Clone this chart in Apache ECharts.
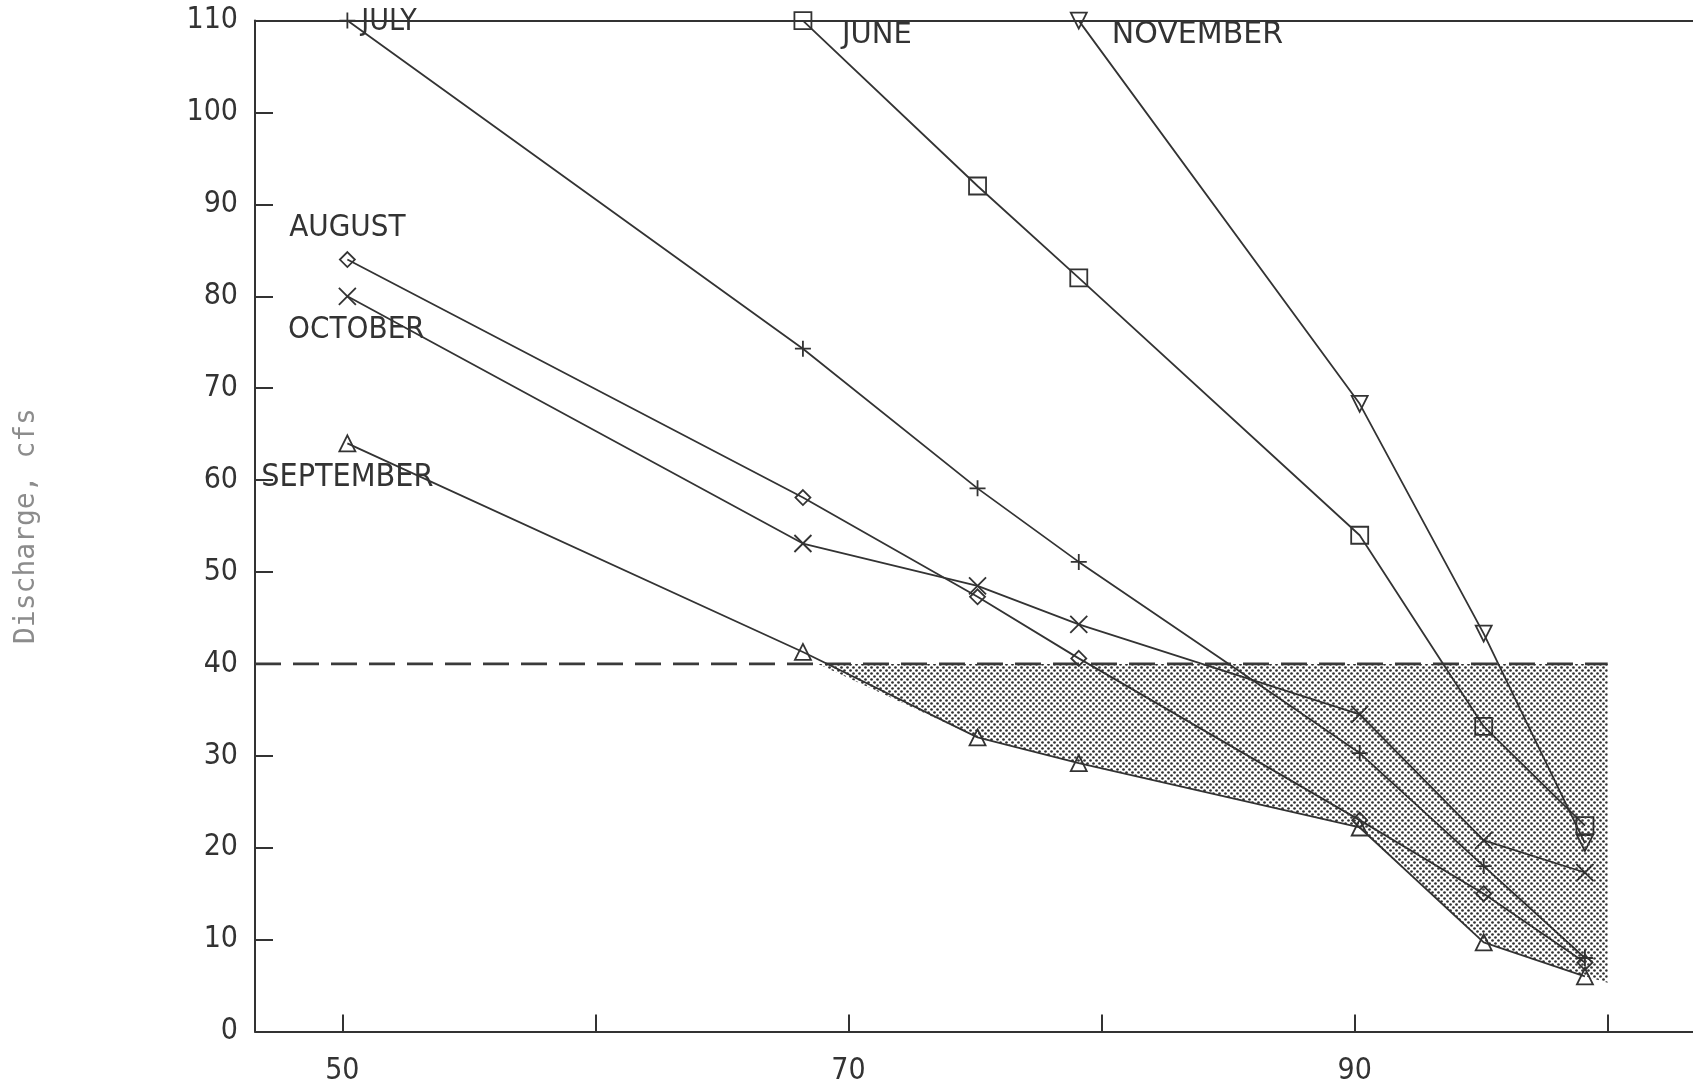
<!DOCTYPE html>
<html>
<head>
<meta charset="utf-8">
<script src="https://cdn.jsdelivr.net/npm/echarts@6/dist/echarts.min.js"></script>
<style>
  html, body { margin: 0; padding: 0; background: #fff; }
  #chart { width: 1693px; height: 1090px; }
</style>
</head>
<body>
<div id="chart"></div>
<script>
// ---- data ----
const xPct = [50.2, 68.2, 75.1, 79.1, 90.2, 95.1, 99.1];       // x positions of points
const july      = [110, 74.3, 59.1, 51.1, 30.3, 18, 8];
const june      = [null, 110, 92, 82, 54, 33.2, 22.4];
const november  = [null, null, null, 110, 68.3, 43.3, 20.5];
const august    = [84, 58.1, 47.3, 40.6, 23, 15, 7.5];
const october   = [80, 53.1, 48.5, 44.3, 34.5, 20.8, 17.3];
const september = [64, 41.3, 32, 29.2, 22.2, 9.7, 6];
const shadeX = [68.8, 75.1, 79.1, 90.2, 95.1, 99.1, 100];       // shaded area lower boundary
const shadeY = [40, 32, 29.2, 22.2, 9.7, 6, 5.3];
const thresholdX = [46.55, 100];
const thresholdY = 40;
const xTicks = [50, 60, 70, 80, 90, 100];
const xTickLabels = [50, 70, 90];
const yTicks = [0, 10, 20, 30, 40, 50, 60, 70, 80, 90, 100, 110];

const INK = '#333';
const FONT = '"DejaVu Sans Condensed", "Liberation Sans", sans-serif';
const WIDE = '"DejaVu Sans", sans-serif';

// dot pattern for the shaded area
const pc = document.createElement('canvas');
pc.width = 6; pc.height = 6;
const pctx = pc.getContext('2d');
pctx.fillStyle = '#303030';
[[1.5, 1.5], [4.5, 4.5]].forEach(function (p) {
  pctx.beginPath(); pctx.arc(p[0], p[1], 1.35, 0, Math.PI * 2); pctx.fill();
});

function pairs(vals) {
  const out = [];
  vals.forEach(function (v, i) { if (v !== null) out.push([xPct[i], v]); });
  return out;
}

function monthSeries(name, vals, symbol, size, rotate, lab) {
  const d = pairs(vals).map(function (p, i) {
    if (i !== 0) return { value: p };
    return {
      value: p,
      label: {
        show: true, formatter: name, position: 'inside',
        align: lab.align, verticalAlign: 'middle', offset: lab.offset,
        fontFamily: lab.font || FONT, fontSize: lab.size, color: INK
      }
    };
  });
  return {
    type: 'line', name: name, data: d, z: 3,
    symbol: symbol, symbolSize: size, symbolRotate: rotate || 0,
    showAllSymbol: true,
    lineStyle: { color: INK, width: 1.8 },
    itemStyle: { color: 'rgba(0,0,0,0)', borderColor: INK, borderWidth: 1.8 },
    label: { show: false },
    emphasis: { disabled: true },
    clip: false
  };
}

const chart = echarts.init(document.getElementById('chart'), null, { renderer: 'canvas' });
chart.setOption({
  animation: false,
  backgroundColor: '#fff',
  grid: { left: 255, right: 0, top: 20.6, bottom: 58.5 },
  xAxis: [{
    type: 'value', min: 46.55, max: 103.37,
    axisLine: { show: true, lineStyle: { color: INK, width: 2 } },
    axisTick: { show: true, inside: true, length: 17, customValues: xTicks, lineStyle: { color: INK, width: 2 } },
    axisLabel: { customValues: xTickLabels, margin: 25, fontSize: 30, fontFamily: FONT, color: INK },
    splitLine: { show: false }
  }, {
    type: 'value', min: 46.55, max: 103.37, position: 'top',
    axisLine: { show: true, lineStyle: { color: INK, width: 2 } },
    axisTick: { show: false }, axisLabel: { show: false }, splitLine: { show: false }
  }],
  yAxis: {
    type: 'value', min: 0, max: 110, interval: 10,
    name: 'Discharge, cfs', nameLocation: 'middle', nameGap: 214, nameRotate: 90,
    nameTextStyle: { fontFamily: '"DejaVu Sans Mono", monospace', fontSize: 28, color: '#8c8c8c' },
    axisLine: { show: true, lineStyle: { color: INK, width: 2 } },
    axisTick: { show: true, inside: true, length: 18, lineStyle: { color: INK, width: 2 } },
    axisLabel: { margin: 17, fontSize: 30, fontFamily: FONT, color: INK,
      formatter: function (v) { return yTicks.indexOf(v) >= 0 ? String(v) : ''; } },
    splitLine: { show: false }
  },
  series: [
    {
      type: 'line', name: 'threshold', z: 2,
      data: thresholdX.map(function (x) { return [x, thresholdY]; }),
      symbol: 'none',
      lineStyle: { color: '#3a3a3a', width: 2.6, type: [26, 12] },
      emphasis: { disabled: true }
    },
    monthSeries('JULY', july, 'path://M8,0L8,16M0,8L16,8', 16, 0, { align: 'left', offset: [14, 2], size: 30 }),
    monthSeries('JUNE', june, 'rect', 17, 0, { align: 'left', offset: [39, 15], size: 29, font: WIDE }),
    monthSeries('NOVEMBER', november, 'triangle', 16, 180, { align: 'left', offset: [33, 15], size: 30, font: WIDE }),
    monthSeries('AUGUST', august, 'diamond', 15, 0, { align: 'center', offset: [0, -32], size: 31 }),
    monthSeries('OCTOBER', october, 'path://M0,0L16,16M16,0L0,16', 17, 0, { align: 'center', offset: [9, 34], size: 31 }),
    monthSeries('SEPTEMBER', september, 'triangle', 16, 0, { align: 'center', offset: [0, 34], size: 32 }),
    {
      type: 'line', name: 'shade', z: 4,
      data: shadeX.map(function (x, i) { return [x, shadeY[i]]; }),
      symbol: 'none',
      lineStyle: { width: 0, opacity: 0 },
      areaStyle: { origin: thresholdY, color: { image: pc, repeat: 'repeat' }, opacity: 1 },
      emphasis: { disabled: true },
      silent: true
    }
  ]
});
</script>
</body>
</html>
